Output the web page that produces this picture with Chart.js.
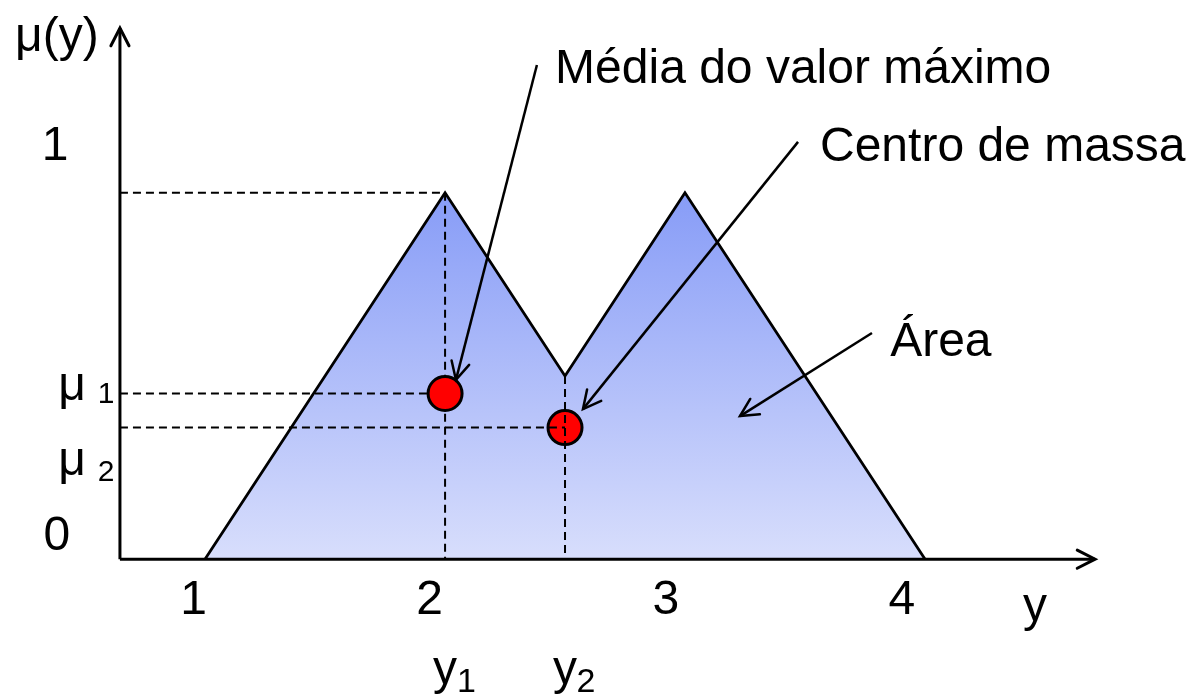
<!DOCTYPE html>
<html>
<head>
<meta charset="utf-8">
<script src="https://cdn.jsdelivr.net/npm/chart.js@4.4.0/dist/chart.umd.min.js"></script>
<style>
  html, body { margin: 0; padding: 0; background: #fff; }
  #wrap { width: 1190px; height: 699px; }
</style>
</head>
<body>
<div id="wrap"><canvas id="grafico"></canvas></div>
<script>
// função de pertinência (dois triângulos)
const curveX = [1.048, 2.065, 2.573, 3.081, 4.098];
const curveY = [0, 0.891, 0.4455, 0.891, 0];

// pontos de defuzzificação
const y1 = 2.065;
const y2 = 2.573;
const mu1 = 0.403;
const mu2 = 0.320;
const muMax = 0.891;
const muValley = 0.4455;

// eixos
const originX = 0.688;
const axisXEnd = 4.818;
const axisYEnd = 1.292;

// setas das anotações: [x0, y0, x1, y1]
const arrowMedia = [2.454, 1.202, 2.111, 0.436];
const arrowCentro = [3.56, 1.015, 2.649, 0.365];
const arrowArea = [3.873, 0.550, 3.314, 0.348];

// rótulos dos eixos
const xTickValues = [1, 2, 3, 4];
const xTickLabels = ['1', '2', '3', '4'];

// textos: [texto, x, y, tamanho, alinhamento]
const textos = [
  ['μ(y)', 0.421, 1.268, 48, 'center'],
  ['1', 0.413, 1.003, 48, 'center'],
  ['0', 0.421, 0.054, 48, 'center'],
  ['μ', 0.485, 0.419, 48, 'center'],
  ['1', 0.629, 0.400, 30, 'center'],
  ['μ', 0.485, 0.236, 48, 'center'],
  ['2', 0.629, 0.210, 30, 'center'],
  ['y', 4.564, -0.117, 48, 'center'],
  ['y', 2.014, -0.272, 48, 'left'],
  ['1', 2.115, -0.300, 34, 'left'],
  ['y', 2.522, -0.272, 48, 'left'],
  ['2', 2.622, -0.300, 34, 'left'],
  ['Média do valor máximo', 2.531, 1.190, 48, 'left'],
  ['Centro de massa', 3.653, 1.0, 48, 'left'],
  ['Área', 3.95, 0.526, 48, 'left']
];
const tickY = -0.1017;

const FONT = '"Liberation Sans", Arial, sans-serif';

function seg(x0, ya, x1, yb) {
  return [{ x: x0, y: ya }, { x: x1, y: yb }];
}

function tracejada(data) {
  return {
    data: data,
    borderColor: '#000',
    borderWidth: 2,
    borderDash: [8, 5],
    pointRadius: 0,
    fill: false,
    order: 5
  };
}

function seta(data, largura) {
  return {
    data: data,
    borderColor: '#000',
    borderWidth: largura,
    pointRadius: 0,
    fill: false,
    arrowHead: 20,
    order: 2
  };
}

const textoPlugin = {
  id: 'textos',
  afterDatasetsDraw(chart) {
    const ctx = chart.ctx;
    const sx = chart.scales.x;
    const sy = chart.scales.y;
    ctx.save();

    // pontas das setas
    chart.data.datasets.forEach(ds => {
      if (!ds.arrowHead) return;
      const n = ds.data.length;
      const a = ds.data[n - 2], b = ds.data[n - 1];
      const ax = sx.getPixelForValue(a.x), ay = sy.getPixelForValue(a.y);
      const bx = sx.getPixelForValue(b.x), by = sy.getPixelForValue(b.y);
      const ang = Math.atan2(by - ay, bx - ax);
      const len = ds.arrowHead;
      const abre = 0.47;
      ctx.beginPath();
      ctx.moveTo(bx - len * Math.cos(ang - abre), by - len * Math.sin(ang - abre));
      ctx.lineTo(bx, by);
      ctx.lineTo(bx - len * Math.cos(ang + abre), by - len * Math.sin(ang + abre));
      ctx.strokeStyle = '#000';
      ctx.lineWidth = ds.borderWidth;
      ctx.lineCap = 'round';
      ctx.stroke();
    });

    ctx.fillStyle = '#000';
    ctx.textBaseline = 'middle';

    // rótulos do eixo horizontal
    ctx.textAlign = 'center';
    ctx.font = '48px ' + FONT;
    xTickValues.forEach((v, i) => {
      ctx.fillText(xTickLabels[i], sx.getPixelForValue(v), sy.getPixelForValue(tickY));
    });

    textos.forEach(t => {
      ctx.font = t[3] + 'px ' + FONT;
      ctx.textAlign = t[4];
      ctx.fillText(t[0], sx.getPixelForValue(t[1]), sy.getPixelForValue(t[2]));
    });
    ctx.restore();
  }
};

const ctx = document.getElementById('grafico').getContext('2d');
new Chart(ctx, {
  type: 'line',
  data: {
    datasets: [
      {
        data: curveX.map((v, i) => ({ x: v, y: curveY[i] })),
        borderColor: '#000',
        borderWidth: 2.8,
        pointRadius: 0,
        fill: 'origin',
        backgroundColor: (c) => {
          const chart = c.chart;
          if (!chart.chartArea) return 'rgba(0,0,0,0)';
          const top = chart.scales.y.getPixelForValue(muMax);
          const bot = chart.scales.y.getPixelForValue(0);
          const g = chart.ctx.createLinearGradient(0, top, 0, bot);
          g.addColorStop(0, '#879cf7');
          g.addColorStop(1, '#d8defc');
          return g;
        },
        order: 10
      },
      // ponto do centro de massa fica sob a tracejada
      {
        data: [{ x: y2, y: mu2 }],
        showLine: false,
        pointRadius: 17,
        pointBackgroundColor: '#ff0000',
        pointBorderColor: '#000',
        pointBorderWidth: 3,
        order: 6
      },
      tracejada(seg(originX, muMax, y1, muMax)),
      tracejada(seg(y1, muMax, y1, 0)),
      tracejada(seg(originX, mu1, y1, mu1)),
      tracejada(seg(originX, mu2, y2, mu2)),
      tracejada(seg(y2, muValley, y2, 0)),
      {
        data: [{ x: y1, y: mu1 }],
        showLine: false,
        pointRadius: 17,
        pointBackgroundColor: '#ff0000',
        pointBorderColor: '#000',
        pointBorderWidth: 3,
        order: 4
      },
      seta(seg(originX, 0, axisXEnd, 0), 3),
      seta(seg(originX, 0, originX, axisYEnd), 3),
      seta(seg(...arrowMedia), 2.5),
      seta(seg(...arrowCentro), 2.5),
      seta(seg(...arrowArea), 2.5)
    ]
  },
  options: {
    responsive: true,
    maintainAspectRatio: false,
    animation: false,
    layout: { padding: 0, autoPadding: false },
    scales: {
      x: { type: 'linear', min: 0.18, max: 5.22, display: false },
      y: { type: 'linear', min: -0.34, max: 1.36, display: false }
    },
    plugins: {
      legend: { display: false },
      tooltip: { enabled: false }
    }
  },
  plugins: [textoPlugin]
});
</script>
</body>
</html>
